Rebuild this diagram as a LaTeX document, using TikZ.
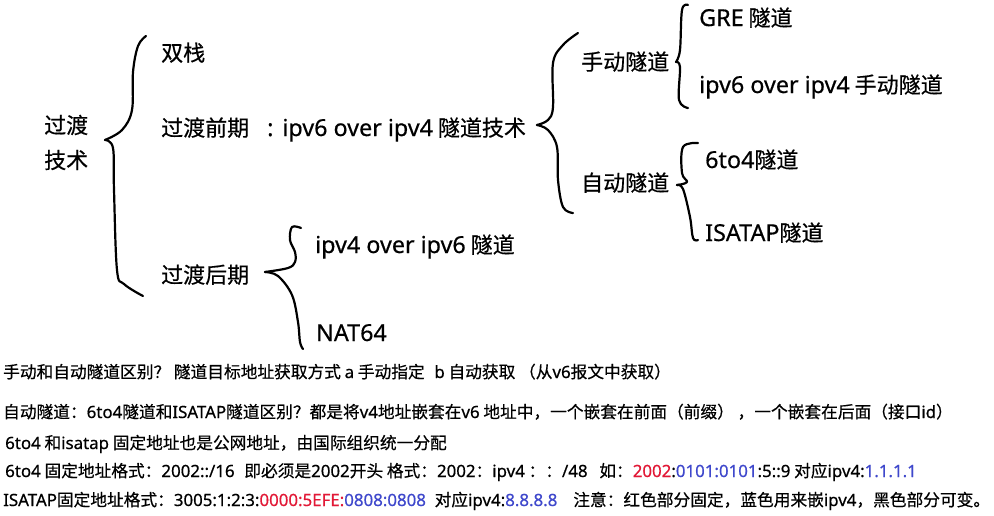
\documentclass[tikz,border=0pt]{standalone}
\usepackage{fontspec}
\setmainfont{Noto Sans CJK SC}[FakeBold=0.5]
\newfontfamily\latfont{Noto Sans}[Scale=1.06, FakeBold=0.5]
\newfontfamily\latsmall{Noto Sans}[Scale=1.01, FakeBold=0.5]
\usetikzlibrary{positioning}

\definecolor{fixedred}{RGB}{226,24,54}
\definecolor{embedblue}{RGB}{63,72,204}
\newcommand{\en}[1]{{\latfont #1}}
\newcommand{\fx}[1]{\textcolor{fixedred}{#1}}
\newcommand{\eb}[1]{\textcolor{embedblue}{#1}}

\begin{document}
\begin{tikzpicture}[
    x=1pt, y=-1pt,
    bigtext/.style={inner sep=0pt, anchor=base west, font=\fontsize{22}{35}\selectfont},
    notetext/.style={inner sep=0pt, anchor=base west, font=\fontsize{16.7}{20}\selectfont\let\latfont\latsmall},
    brace/.style={line width=2.2pt, line cap=round, line join=round}
]
\useasboundingbox[fill=white] (0,0) rectangle (994,515);

% === Tree of transition techniques ===
\node[bigtext, anchor=west, align=left] (guodu) at (44,142.5) {过渡\\技术};
\node[bigtext] (dualstack) at (161,61) {双栈};
\node[bigtext] (early) at (161,136) {过渡前期\hspace{18pt}\en{:}\hspace{9pt}\en{ipv6 over ipv4} 隧道技术};
\node[bigtext] (late) at (161,283) {过渡后期};
\node[bigtext] (v4overv6) at (315,253) {\en{ipv4 over ipv6} 隧道};
\node[bigtext] (nat64) at (316,341) {\en{NAT64}};
\node[bigtext] (manual) at (581,70) {手动隧道};
\node[bigtext] (auto) at (581,191) {自动隧道};
\node[bigtext] (gre) at (699,26) {\en{GRE} 隧道};
\node[bigtext] (v6overv4) at (699,93) {\en{ipv6 over ipv4} 手动隧道};
\node[bigtext] (sixtofour) at (705,168) {\en{6to4}隧道};
\node[bigtext] (isatap) at (705,241) {\en{ISATAP}隧道};

% hand-drawn braces
\draw[brace] plot[smooth, tension=0.6] coordinates {(146,36) (138,46) (133,72) (132,110) (122,130) (105,140)};
\draw[brace] plot[smooth, tension=0.6] coordinates {(105,140) (113,148) (114,190) (117,270) (124,284) (143,296)};
\draw[brace] plot[smooth, tension=0.6] coordinates {(301,228) (292,227) (290,240) (295,252) (295,262) (288,268) (265,272)};
\draw[brace] plot[smooth, tension=0.6] coordinates {(265,272) (278,276) (292,295) (298,322) (300,342) (303,349)};
\draw[brace] plot[smooth, tension=0.6] coordinates {(578,33) (563,45) (553,63) (553,107) (548,120) (537,125)};
\draw[brace] plot[smooth, tension=0.6] coordinates {(537,125) (548,130) (557,147) (558,180) (563,207) (573,213)};
\draw[brace] plot[smooth, tension=0.6] coordinates {(688,5) (682,10) (680,50) (676,62)};
\draw[brace] plot[smooth, tension=0.6] coordinates {(676,62) (680,67) (679,100) (688,108)};
\draw[brace] plot[smooth, tension=0.6] coordinates {(698,143) (683,147) (682,173) (687,182) (677,185)};
\draw[brace] plot[smooth, tension=0.6] coordinates {(677,185) (683,189) (690,217) (693,238) (698,240)};

% === Notes ===
\node[notetext] (note1) at (3,378) {手动和自动隧道区别？ 隧道目标地址获取方式 \en{a} 手动指定\hspace{6pt} \en{b} 自动获取 （从\en{v6}报文中获取）};
\node[notetext] (note2) at (3,418) {自动隧道：\en{6to4}隧道和\en{ISATAP}隧道区别？都是将\en{v4}地址嵌套在\en{v6} 地址中，一个嵌套在前面（前缀） ，一个嵌套在后面（接口\en{id}）};
\node[notetext] (note3) at (5,449) {\en{6to4} 和\en{isatap} 固定地址也是公网地址，由国际组织统一分配};
\node[notetext] (note4) at (5,477) {\en{6to4} 固定地址格式：\en{2002::/16}\hspace{6pt} 即必须是\en{2002}开头 格式：\en{2002}：\en{ipv4} ：：\en{/48}\hspace{8pt} 如：\en{\fx{2002}:\eb{0101:0101}:5::9} 对应\en{ipv4:\eb{1.1.1.1}}};
\node[notetext] (note5) at (3,506) {\en{ISATAP}固定地址格式：\en{3005:1:2:3:\fx{0000:5EFE:}\eb{0808:0808}}\hspace{5pt} 对应\en{ipv4:\eb{8.8.8.8}}\hspace{16pt}注意：红色部分固定，蓝色用来嵌\en{ipv4}，黑色部分可变。};

\end{tikzpicture}
\end{document}
